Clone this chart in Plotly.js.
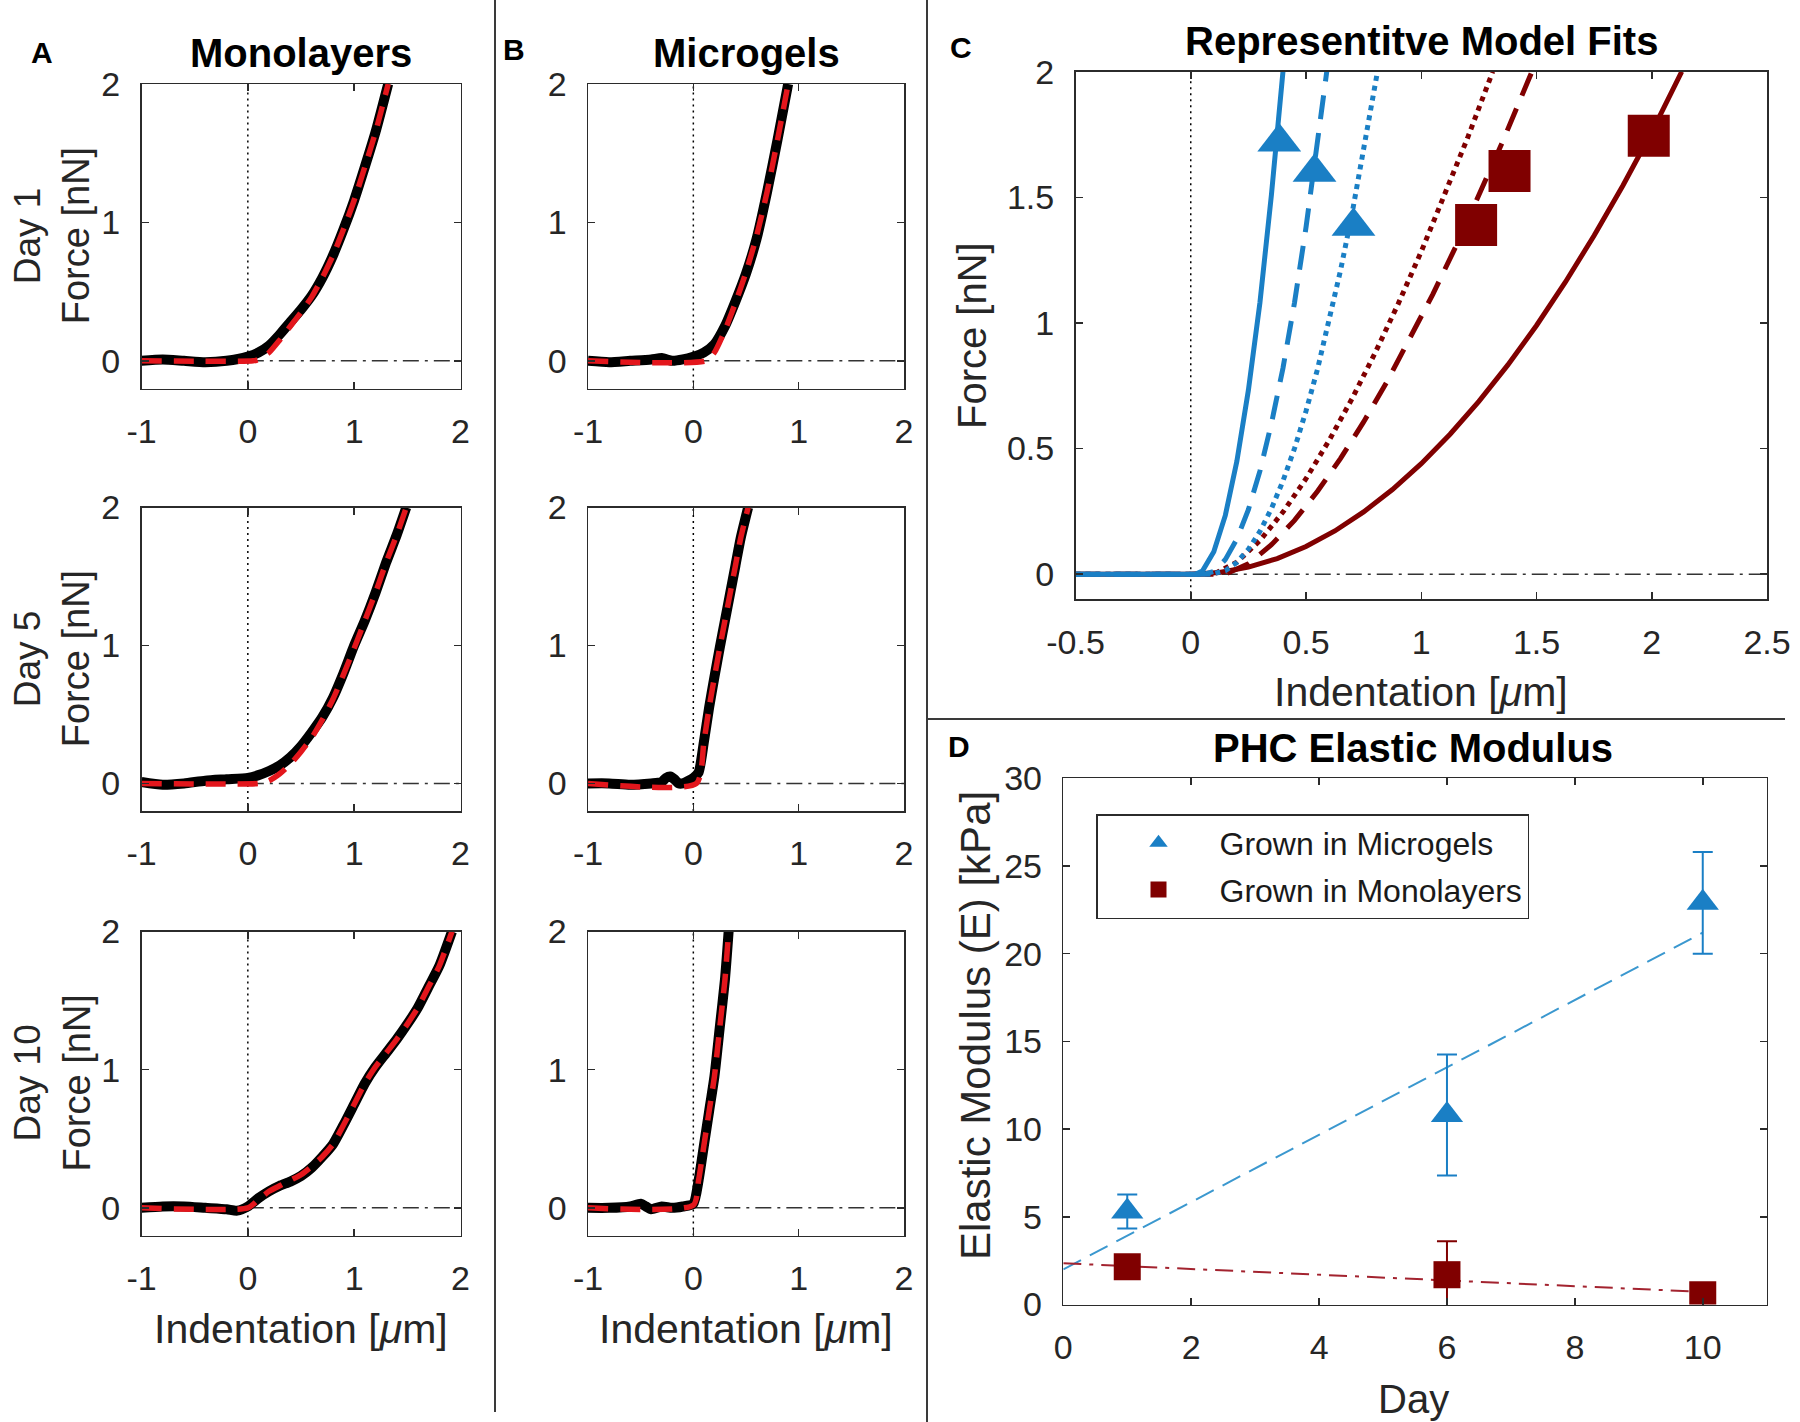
<!DOCTYPE html>
<html><head><meta charset="utf-8">
<script src="https://cdn.plot.ly/plotly-3.0.1.min.js"></script>
<style>body{margin:0;background:#fff}</style>
</head><body><div id="chart" style="width:1800px;height:1422px"></div>
<script>
// ================= DATA =================
// Panel A / B : force curves (x = indentation um, F = force nN)
const a1X = [-1,-0.8,-0.6,-0.4,-0.2,0,0.1,0.2,0.3,0.4,0.5,0.6,0.7,0.8,0.9,1.0,1.1,1.2,1.32];
const a1F = [0.0,0.01,0.0,-0.01,0.0,0.03,0.06,0.11,0.19,0.28,0.37,0.47,0.6,0.76,0.95,1.16,1.4,1.65,2.0];
const a1FitX = [-1,0.05,0.1,0.2,0.3,0.4,0.5,0.6,0.7,0.8,0.9,1.0,1.1,1.2,1.32];
const a1FitF = [0,0,0.01,0.06,0.15,0.25,0.35,0.46,0.6,0.76,0.95,1.16,1.4,1.65,2.0];

const a2X = [-1,-0.8,-0.6,-0.4,-0.2,0,0.1,0.2,0.3,0.4,0.5,0.6,0.7,0.8,0.9,1.0,1.1,1.2,1.3,1.4,1.49];
const a2F = [0.01,-0.01,0.0,0.02,0.03,0.04,0.06,0.09,0.13,0.19,0.27,0.37,0.48,0.62,0.8,1.0,1.18,1.38,1.6,1.8,2.0];
const a2FitX = [-1,0.1,0.2,0.3,0.4,0.5,0.6,0.7,0.8,0.9,1.0,1.1,1.2,1.3,1.4,1.49];
const a2FitF = [0,0,0.02,0.07,0.14,0.23,0.33,0.46,0.61,0.79,0.98,1.18,1.38,1.6,1.8,2.0];

const a3X = [-1,-0.8,-0.6,-0.4,-0.2,-0.1,0,0.1,0.2,0.3,0.4,0.5,0.6,0.7,0.8,0.9,1.0,1.1,1.2,1.3,1.4,1.5,1.6,1.7,1.8,1.92];
const a3F = [0,0.01,0.01,0,-0.01,-0.02,0.01,0.07,0.12,0.16,0.19,0.23,0.29,0.37,0.46,0.6,0.75,0.9,1.02,1.12,1.22,1.33,1.45,1.6,1.75,2.0];
const a3FitX = [-1,0,0.1,0.2,0.3,0.4,0.5,0.6,0.7,0.8,0.9,1.0,1.1,1.2,1.3,1.4,1.5,1.6,1.7,1.8,1.92];
const a3FitF = [0,0,0.06,0.12,0.16,0.2,0.24,0.3,0.37,0.46,0.6,0.75,0.9,1.02,1.12,1.22,1.33,1.45,1.6,1.75,2.0];

const b1X = [-1,-0.8,-0.6,-0.4,-0.3,-0.2,-0.1,0,0.1,0.2,0.3,0.4,0.5,0.6,0.7,0.8,0.9];
const b1F = [0.0,-0.01,0.0,0.01,0.02,0.0,0.01,0.03,0.06,0.12,0.25,0.43,0.63,0.88,1.22,1.6,2.0];
const b1FitX = [-1,0.12,0.2,0.3,0.4,0.5,0.6,0.7,0.8,0.9];
const b1FitF = [0,0,0.06,0.22,0.42,0.64,0.9,1.22,1.6,2.0];

const b2X = [-1,-0.8,-0.6,-0.4,-0.3,-0.26,-0.22,-0.18,-0.14,-0.1,0,0.05,0.1,0.15,0.2,0.25,0.3,0.35,0.4,0.45,0.52];
const b2F = [0,0,-0.01,0,0.01,0.04,0.05,0.03,0.0,0.0,0.04,0.08,0.3,0.55,0.77,0.98,1.18,1.38,1.58,1.78,2.0];
const b2FitX = [-1,0.03,0.1,0.15,0.2,0.25,0.3,0.35,0.4,0.45,0.52];
const b2FitF = [0,0,0.3,0.55,0.77,0.98,1.18,1.38,1.58,1.78,2.0];

const b3X = [-1,-0.8,-0.6,-0.5,-0.45,-0.4,-0.3,-0.2,-0.1,0,0.05,0.1,0.15,0.2,0.25,0.3,0.335];
const b3F = [0,0,0.01,0.03,0.01,-0.01,0.01,0.0,0.01,0.03,0.2,0.45,0.7,0.95,1.3,1.65,2.0];
const b3FitX = [-1,0,0.05,0.1,0.15,0.2,0.25,0.3,0.335];
const b3FitF = [0,0.02,0.2,0.45,0.7,0.95,1.3,1.65,2.0];

// reference lines
const contactX = [0, 0];
const contactY_AB = [-0.2, 2];
const contactY_C = [-0.1, 2];
const baseX_AB = [0, 2];
const baseX_C = [0, 2.5];
const baseY = [0, 0];

// Panel C : representative model fits
const blueSolidX = [-0.5,0,0.02,0.05,0.1,0.15,0.2,0.25,0.3,0.35,0.4];
const blueSolidF = [0,0,0,0.012,0.089,0.234,0.449,0.732,1.08,1.51,2.0];
const blueDashX = [-0.5,0,0.06,0.1,0.15,0.2,0.25,0.3,0.35,0.4,0.45,0.5,0.55,0.59];
const blueDashF = [0,0,0,0.011,0.058,0.14,0.257,0.41,0.6,0.82,1.08,1.38,1.71,2.0];
const blueDotX = [-0.5,0,0.09,0.15,0.2,0.25,0.3,0.35,0.4,0.45,0.5,0.55,0.6,0.65,0.7,0.75,0.81];
const blueDotF = [0,0,0,0.014,0.047,0.099,0.17,0.261,0.371,0.5,0.649,0.816,1.003,1.21,1.436,1.681,2.0];
const redDotX = [-0.5,0,0.1,0.2,0.3,0.4,0.5,0.6,0.7,0.8,0.9,1.0,1.1,1.2,1.31];
const redDotF = [0,0,0,0.048,0.134,0.247,0.38,0.532,0.699,0.881,1.076,1.284,1.503,1.734,2.0];
const redDashX = [-0.5,0,0.15,0.25,0.35,0.45,0.55,0.65,0.75,0.85,0.95,1.05,1.15,1.25,1.35,1.48];
const redDashF = [0,0,0,0.041,0.117,0.214,0.33,0.461,0.606,0.764,0.934,1.114,1.304,1.505,1.715,2.0];
const redSolidX = [-0.5,0,0.125,0.25,0.375,0.5,0.625,0.75,0.875,1.0,1.125,1.25,1.375,1.5,1.625,1.75,1.875,2.0,2.13];
const redSolidF = [0,0,0.007,0.028,0.062,0.11,0.172,0.248,0.337,0.44,0.557,0.688,0.832,0.99,1.162,1.348,1.547,1.76,2.0];
const blueMarkX = [0.384, 0.537, 0.706];
const blueMarkF = [1.72, 1.6, 1.385];
const redMarkX = [1.238, 1.383, 1.987];
const redMarkF = [1.39, 1.605, 1.745];

// Panel D : elastic modulus
const days = [1, 6, 10];
const microMean = [5.3, 10.8, 22.9];
const microErr = [0.97, 3.45, 2.9];
const monoMean = [2.15, 1.7, 0.55];
const monoErr = [0.5, 1.9, 0.3];
const microFitX = [0, 10];
const microFitY = [2.0, 21.2];
const monoFitX = [0, 10];
const monoFitY = [2.35, 0.72];

// tick labels
const abXTicks = [-1, 0, 1, 2];
const abXText = ['-1', '0', '1', '2'];
const abYTicks = [0, 1, 2];
const abYText = ['0', '1', '2'];
const cXTicks = [-0.5, 0, 0.5, 1, 1.5, 2, 2.5];
const cXText = ['-0.5', '0', '0.5', '1', '1.5', '2', '2.5'];
const cYTicks = [0, 0.5, 1, 1.5, 2];
const cYText = ['0', '0.5', '1', '1.5', '2'];
const dXTicks = [0, 2, 4, 6, 8, 10];
const dYTicks = [0, 5, 10, 15, 20, 25, 30];

// ================= STYLE / LAYOUT =================
const W = 1800, H = 1422;
const FONT = 'Liberation Sans, Arial, Helvetica, sans-serif';
const AX = '#2b2b2b';
const TXT = '#262626';
const BLUE = '#1a7fc5';
const DRED = '#800000';
const px = v => v / W;
const py = v => 1 - v / H;

function axis(x0, x1, range, tv, tt, anchor, isX) {
  const dom = isX ? [px(x0), px(x1)] : [py(x1), py(x0)];
  return {
    domain: dom, range: range, anchor: anchor,
    tickmode: 'array', tickvals: tv, ticktext: tt,
    ticks: 'inside', ticklen: 7, tickwidth: 1.5, tickcolor: AX,
    showline: true, linecolor: AX, linewidth: 1.5, mirror: 'ticks',
    showgrid: false, zeroline: false, fixedrange: true,
    tickfont: {family: FONT, size: 34, color: TXT},
    ticklabelstandoff: isX ? 12 : 13
  };
}

const colA = [141.5, 460.5], colB = [588, 904];
const rows = [[84, 388.5], [507.5, 811], [931.5, 1235.5]];

const layout = {
  width: W, height: H, margin: {l: 0, r: 0, t: 0, b: 0},
  paper_bgcolor: '#fff', plot_bgcolor: '#fff',
  font: {family: FONT, color: '#000'},
  showlegend: true,
  legend: {
    x: px(1096), y: py(814), xanchor: 'left', yanchor: 'top',
    bordercolor: AX, borderwidth: 1.5, bgcolor: '#fff',
    font: {family: FONT, size: 32, color: '#1a1a1a'},
    itemwidth: 112, tracegroupgap: 2
  },
  annotations: [], shapes: []
};

// A/B axes: xaxis..xaxis6
const panels = [];
let k = 1;
for (let r = 0; r < 3; r++) {
  for (let c = 0; c < 2; c++) {
    const col = c === 0 ? colA : colB;
    const xn = k === 1 ? 'xaxis' : 'xaxis' + k;
    const yn = k === 1 ? 'yaxis' : 'yaxis' + k;
    const xr = k === 1 ? 'x' : 'x' + k;
    const yr = k === 1 ? 'y' : 'y' + k;
    layout[xn] = axis(col[0], col[1], [-1, 2], abXTicks, abXText, yr, true);
    layout[yn] = axis(rows[r][0], rows[r][1], [-0.2, 2], abYTicks, abYText, xr, false);
    panels.push({xr, yr});
    k++;
  }
}
layout.xaxis7 = axis(1075.5, 1767, [-0.5, 2.5], cXTicks, cXText, 'y7', true);
layout.yaxis7 = axis(71.7, 599.3, [-0.1, 2], cYTicks, cYText, 'x7', false);
layout.xaxis8 = axis(1063.3, 1766.7, [0, 11], dXTicks, dXTicks.map(String), 'y8', true);
layout.yaxis8 = axis(778.3, 1304.5, [0, 30], dYTicks, dYTicks.map(String), 'x8', false);

// ================= TRACES =================
const traces = [];
function refLines(xr, yr, cY, bX) {
  traces.push({x: contactX, y: cY, xaxis: xr, yaxis: yr, mode: 'lines', showlegend: false,
    line: {color: '#000', width: 1.5, dash: '2px,4px'}, hoverinfo: 'skip'});
  traces.push({x: bX, y: baseY, xaxis: xr, yaxis: yr, mode: 'lines', showlegend: false,
    line: {color: '#333', width: 1.5, dash: '16px,6px,3px,6px'}, hoverinfo: 'skip'});
}
const abData = [[a1X, a1F, a1FitX, a1FitF], [b1X, b1F, b1FitX, b1FitF],
                [a2X, a2F, a2FitX, a2FitF], [b2X, b2F, b2FitX, b2FitF],
                [a3X, a3F, a3FitX, a3FitF], [b3X, b3F, b3FitX, b3FitF]];
abData.forEach((d, i) => {
  const p = panels[i];
  refLines(p.xr, p.yr, contactY_AB, baseX_AB);
  traces.push({x: d[0], y: d[1], xaxis: p.xr, yaxis: p.yr, mode: 'lines', showlegend: false,
    line: {color: '#000', width: 10, shape: 'spline', smoothing: 0.6}});
  traces.push({x: d[2], y: d[3], xaxis: p.xr, yaxis: p.yr, mode: 'lines', showlegend: false,
    line: {color: '#e3161c', width: 5.5, dash: '20px,12px', shape: 'spline', smoothing: 0.6}});
});

// Panel C
refLines('x7', 'y7', contactY_C, baseX_C);
const cCurves = [
  [redSolidX, redSolidF, DRED, 'solid'],
  [redDashX, redDashF, DRED, '24px,14px'],
  [redDotX, redDotF, DRED, '5px,5px'],
  [blueDotX, blueDotF, BLUE, '5px,5px'],
  [blueDashX, blueDashF, BLUE, '24px,14px'],
  [blueSolidX, blueSolidF, BLUE, 'solid']
];
cCurves.forEach(c => traces.push({x: c[0], y: c[1], xaxis: 'x7', yaxis: 'y7', mode: 'lines',
  showlegend: false, line: {color: c[2], width: 5, dash: c[3]}}));
traces.push({x: blueMarkX, y: blueMarkF, xaxis: 'x7', yaxis: 'y7', mode: 'markers', showlegend: false,
  marker: {symbol: 'triangle-up', size: 38, color: BLUE}});
traces.push({x: redMarkX, y: redMarkF, xaxis: 'x7', yaxis: 'y7', mode: 'markers', showlegend: false,
  marker: {symbol: 'square', size: 42, color: DRED}});

// Panel D
traces.push({x: microFitX, y: microFitY, xaxis: 'x8', yaxis: 'y8', mode: 'lines', showlegend: false,
  line: {color: '#3b98cf', width: 2, dash: '20px,10px'}});
traces.push({x: monoFitX, y: monoFitY, xaxis: 'x8', yaxis: 'y8', mode: 'lines', showlegend: false,
  line: {color: '#a3232f', width: 2, dash: '18px,8px,4px,8px'}});
traces.push({x: days, y: microMean, xaxis: 'x8', yaxis: 'y8', mode: 'markers', name: 'Grown in Microgels',
  legendgroup: 'g1',
  marker: {symbol: 'triangle-up', size: 28, color: BLUE},
  error_y: {type: 'data', array: microErr, visible: true, color: BLUE, thickness: 2, width: 10}});
traces.push({x: days, y: monoMean, xaxis: 'x8', yaxis: 'y8', mode: 'markers', name: 'Grown in Monolayers',
  legendgroup: 'g2',
  marker: {symbol: 'square', size: 27, color: DRED},
  error_y: {type: 'data', array: monoErr, visible: true, color: DRED, thickness: 2, width: 10}});

// ================= ANNOTATIONS =================
function ann(text, x, y, size, opts) {
  layout.annotations.push(Object.assign({text: text, x: px(x), y: py(y), xref: 'paper', yref: 'paper',
    xanchor: 'center', yanchor: 'middle', showarrow: false,
    font: {family: FONT, size: size, color: '#000'}}, opts || {}));
}
const tf = s => ({font: {family: FONT, size: s, color: TXT}});
// panel letters
ann('<b>A</b>', 42, 52, 30);
ann('<b>B</b>', 514, 50, 30);
ann('<b>C</b>', 961, 47, 30);
ann('<b>D</b>', 959, 746, 30);
// titles
ann('<b>Monolayers</b>', 301, 53, 40);
ann('<b>Microgels</b>', 746, 53, 40);
ann('<b>Representitve Model Fits</b>', 1421, 41, 40);
ann('<b>PHC Elastic Modulus</b>', 1413, 748, 40);
// y titles A
const dayLabels = ['Day 1', 'Day 5', 'Day 10'];
rows.forEach((r, i) => {
  const yc = (r[0] + r[1]) / 2;
  ann(dayLabels[i], 27, yc, 37, Object.assign({textangle: -90}, tf(37)));
  ann('Force [nN]', 76, yc, 38, Object.assign({textangle: -90}, tf(38)));
});
ann('Force [nN]', 972, 336, 40, Object.assign({textangle: -90}, tf(40)));
ann('Elastic Modulus (E) [kPa]', 975, 1025, 42, Object.assign({textangle: -90}, tf(42)));
// x titles
const indent = 'Indentation [<i>μ</i>m]';
ann(indent, 301, 1329, 41, tf(41));
ann(indent, 746, 1329, 41, tf(41));
ann(indent, 1421, 692, 41, tf(41));
ann('Day', 1413, 1399, 40, tf(40));

// separators
const sep = {type: 'line', xref: 'paper', yref: 'paper', line: {color: '#3a3a3a', width: 2}};
layout.shapes.push(Object.assign({}, sep, {x0: px(495), x1: px(495), y0: py(1412), y1: 1}));
layout.shapes.push(Object.assign({}, sep, {x0: px(927), x1: px(927), y0: 0, y1: 1}));
layout.shapes.push(Object.assign({}, sep, {x0: px(927), x1: px(1785), y0: py(719), y1: py(719)}));

Plotly.newPlot('chart', traces, layout, {staticPlot: true, displayModeBar: false});
</script>
</body></html>
